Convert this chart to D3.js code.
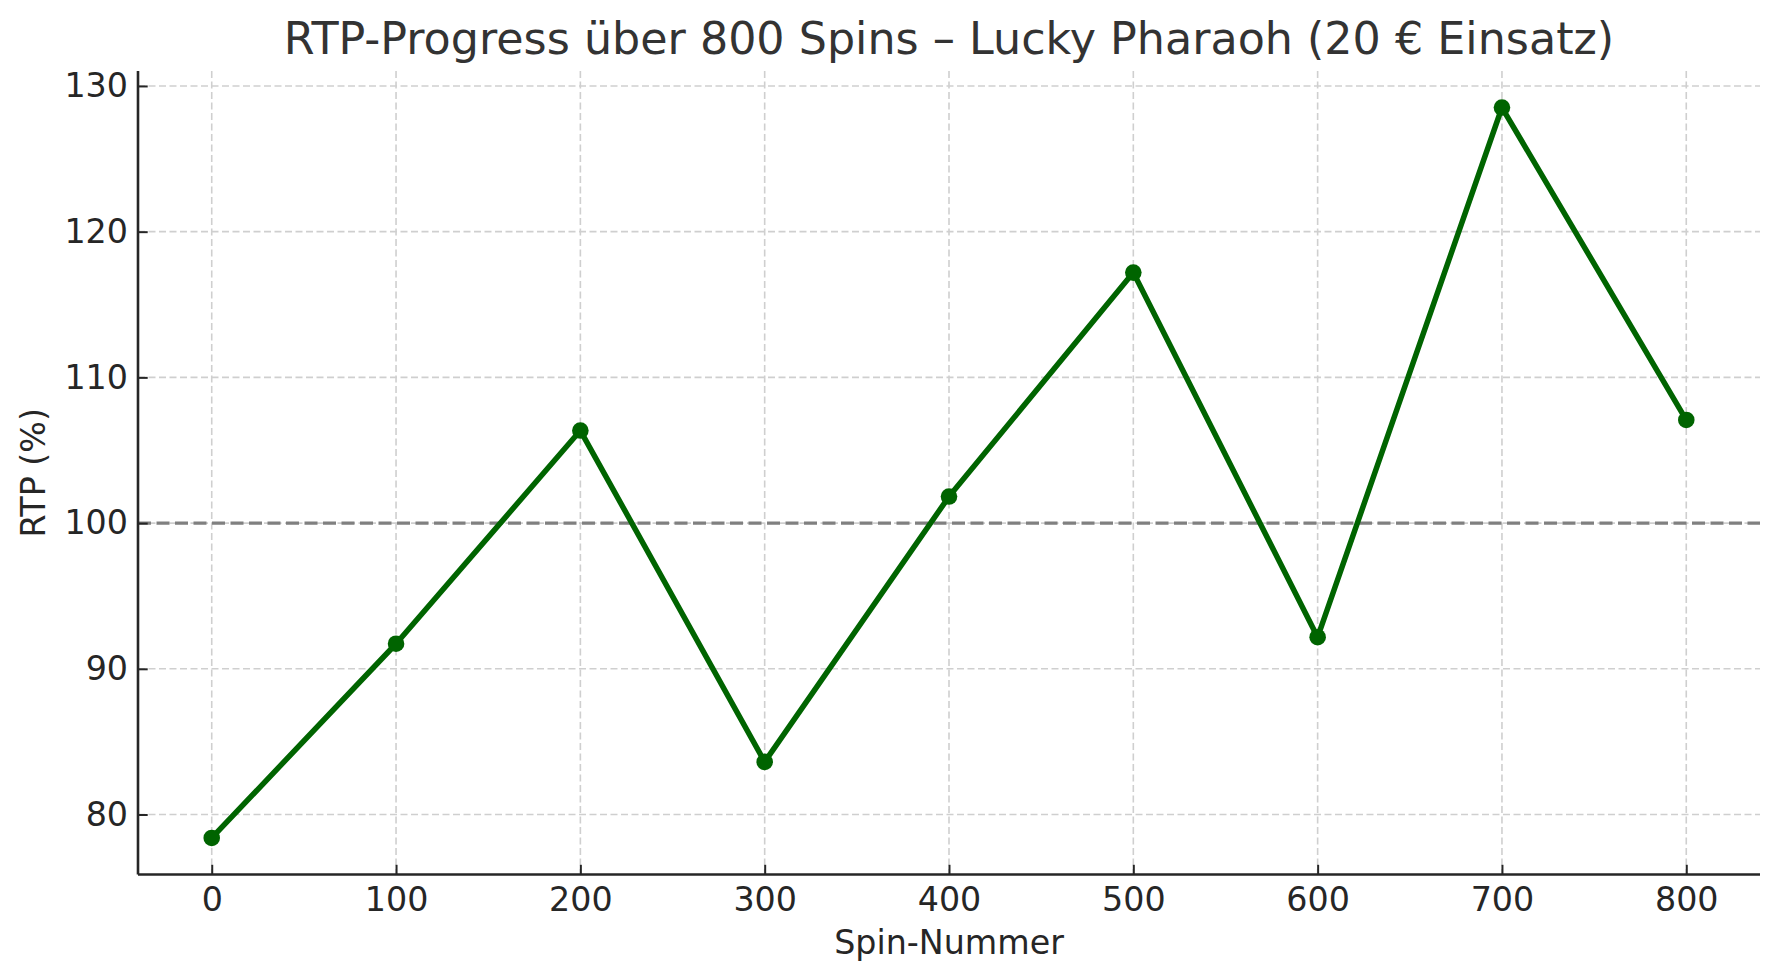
<!DOCTYPE html>
<html>
<head>
<meta charset="utf-8">
<script src="https://cdn.jsdelivr.net/npm/d3@7"></script>
<style>
  html, body { margin: 0; padding: 0; background: #ffffff; }
  svg { display: block; font-family: "DejaVu Sans", sans-serif; }
</style>
</head>
<body>
<svg id="chart" width="1779" height="980"></svg>
<script>
// ---- data ----
const spins = [0, 100, 200, 300, 400, 500, 600, 700, 800];
const rtp = [78.39, 91.72, 106.35, 83.61, 101.82, 117.19, 92.17, 128.52, 107.08];
const xTicks = [0, 100, 200, 300, 400, 500, 600, 700, 800];
const yTicks = [80, 90, 100, 110, 120, 130];
const referenceLevel = 100;
const titleText = "RTP-Progress über 800 Spins – Lucky Pharaoh (20 € Einsatz)";
const xLabelText = "Spin-Nummer";
const yLabelText = "RTP (%)";

// ---- layout ----
const W = 1779, H = 980;
const plot = { left: 138, right: 1760, top: 71, bottom: 874.5 };

const svg = d3.select("#chart");
svg.append("rect").attr("width", W).attr("height", H).attr("fill", "#ffffff");

// matplotlib-style 5% margins
const xExt = d3.extent(spins), yExt = d3.extent(rtp);
const xPad = (xExt[1] - xExt[0]) * 0.05, yPad = (yExt[1] - yExt[0]) * 0.05;
const x = d3.scaleLinear().domain([xExt[0] - xPad, xExt[1] + xPad]).range([plot.left, plot.right]);
const y = d3.scaleLinear().domain([yExt[0] - yPad, yExt[1] + yPad]).range([plot.bottom, plot.top]);

// ---- grid ----
const grid = svg.append("g").attr("class", "grid");
grid.selectAll("line.v").data(xTicks).enter().append("line")
  .attr("x1", d => x(d)).attr("x2", d => x(d))
  .attr("y1", plot.top).attr("y2", plot.bottom)
  .attr("stroke", "#cfcfcf").attr("stroke-width", 1.6).attr("stroke-dasharray", "7,3.5");
grid.selectAll("line.h").data(yTicks).enter().append("line")
  .attr("x1", plot.left).attr("x2", plot.right)
  .attr("y1", d => y(d)).attr("y2", d => y(d))
  .attr("stroke", "#cfcfcf").attr("stroke-width", 1.6).attr("stroke-dasharray", "7,3.5");

// ---- reference line at 100 % ----
svg.append("line")
  .attr("x1", plot.left).attr("x2", plot.right)
  .attr("y1", y(referenceLevel)).attr("y2", y(referenceLevel))
  .attr("stroke", "#808080").attr("stroke-width", 3.3).attr("stroke-dasharray", "13,5.5");

// ---- series ----
const pts = spins.map((s, i) => [s, rtp[i]]);
svg.append("path")
  .datum(pts)
  .attr("fill", "none")
  .attr("stroke", "#006400")
  .attr("stroke-width", 5.5)
  .attr("stroke-linejoin", "round")
  .attr("stroke-linecap", "square")
  .attr("d", d3.line().x(d => x(d[0])).y(d => y(d[1])));
svg.selectAll("circle.pt").data(pts).enter().append("circle")
  .attr("cx", d => x(d[0])).attr("cy", d => y(d[1]))
  .attr("r", 8.3).attr("fill", "#006400");

// ---- axes ----
const axisColor = "#262626";
const xAxis = svg.append("g").attr("transform", `translate(0,${plot.bottom})`)
  .call(d3.axisBottom(x).tickValues(xTicks).tickFormat(d3.format("d"))
    .tickSizeInner(-9.7).tickSizeOuter(0).tickPadding(13));
const yAxis = svg.append("g").attr("transform", `translate(${plot.left},0)`)
  .call(d3.axisLeft(y).tickValues(yTicks).tickFormat(d3.format("d"))
    .tickSizeInner(-9.7).tickSizeOuter(0).tickPadding(10));
[xAxis, yAxis].forEach(g => {
  g.select(".domain").attr("stroke", axisColor).attr("stroke-width", 2.6);
  g.selectAll(".tick line").attr("stroke", axisColor).attr("stroke-width", 2);
  g.selectAll(".tick text").attr("fill", axisColor)
    .style("font-family", "'DejaVu Sans', sans-serif").style("font-size", "33.3px");
});
// extend domain lines to the full plot frame
xAxis.select(".domain").attr("d", `M${plot.left},0H${plot.right}`);
yAxis.select(".domain").attr("d", `M0,${plot.top}V${plot.bottom}`);

// ---- labels ----
svg.append("text")
  .attr("x", (plot.left + plot.right) / 2).attr("y", 54)
  .attr("text-anchor", "middle").attr("fill", "#333333")
  .style("font-size", "44.4px").text(titleText);
svg.append("text")
  .attr("x", (plot.left + plot.right) / 2).attr("y", 954)
  .attr("text-anchor", "middle").attr("fill", axisColor)
  .style("font-size", "33.3px").text(xLabelText);
svg.append("text")
  .attr("transform", `translate(45,${(plot.top + plot.bottom) / 2}) rotate(-90)`)
  .attr("text-anchor", "middle").attr("fill", axisColor)
  .style("font-size", "33.3px").text(yLabelText);
</script>
</body>
</html>
